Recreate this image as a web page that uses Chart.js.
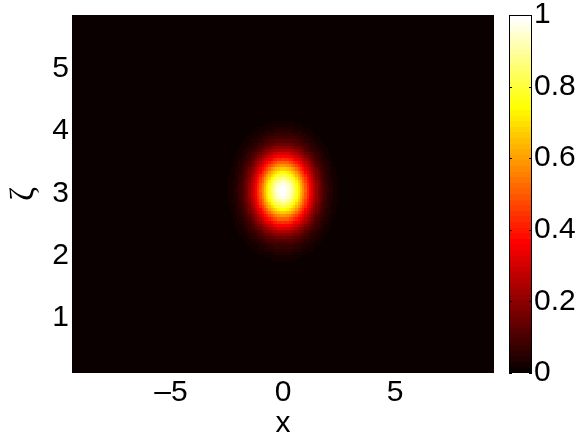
<!DOCTYPE html>
<html>
<head>
<meta charset="utf-8">
<script src="https://cdn.jsdelivr.net/npm/chart.js@4.4.1/dist/chart.umd.min.js"></script>
<style>
  html, body { margin: 0; padding: 0; background: #fff; }
  #wrap { position: relative; width: 579px; height: 439px; }
  #wrap canvas { position: absolute; left: 0; top: 0; }
</style>
</head>
<body>
<div id="wrap">
  <canvas id="heat" width="579" height="439"></canvas>
  <canvas id="cbar" width="579" height="439"></canvas>
</div>
<script>
// Region of the plane where the blob is; outside it the field reads as 0.
const xs = [-2.7, -2.6, -2.5, -2.4, -2.3, -2.2, -2.1, -2.0, -1.9, -1.8, -1.7, -1.6, -1.5,
  -1.4, -1.3, -1.2, -1.1, -1.0, -0.9, -0.8, -0.7, -0.6, -0.5, -0.4, -0.3, -0.2, -0.1,
  0.0, 0.1, 0.2, 0.3, 0.4, 0.5, 0.6, 0.7, 0.8, 0.9, 1.0, 1.1, 1.2, 1.3, 1.4, 1.5, 1.6,
  1.7, 1.8, 1.9, 2.0, 2.1, 2.2, 2.3, 2.4, 2.5, 2.6, 2.7];
// intensity across x, through the centre of the blob
const xProfile = [0.006, 0.009, 0.013, 0.019, 0.026, 0.035, 0.047, 0.063, 0.082, 0.106,
  0.135, 0.170, 0.211, 0.258, 0.310, 0.369, 0.433, 0.501, 0.571, 0.642, 0.712, 0.779,
  0.841, 0.895, 0.940, 0.973, 0.993, 1.000, 0.993, 0.973, 0.940, 0.895, 0.841, 0.779,
  0.712, 0.642, 0.571, 0.501, 0.433, 0.369, 0.310, 0.258, 0.211, 0.170, 0.135, 0.106,
  0.082, 0.063, 0.047, 0.035, 0.026, 0.019, 0.013, 0.009, 0.006];

const zetas = [1.74, 1.79, 1.84, 1.89, 1.94, 1.99, 2.04, 2.09, 2.14, 2.19, 2.24, 2.29,
  2.34, 2.39, 2.44, 2.49, 2.54, 2.59, 2.64, 2.69, 2.74, 2.79, 2.84, 2.89, 2.94, 2.99,
  3.04, 3.09, 3.14, 3.19, 3.24, 3.29, 3.34, 3.39, 3.44, 3.49, 3.54, 3.59, 3.64, 3.69,
  3.74, 3.79, 3.84, 3.89, 3.94, 3.99, 4.04, 4.09, 4.14, 4.19, 4.24, 4.29, 4.34];
// intensity along zeta, through the centre of the blob
const zetaProfile = [0.004, 0.006, 0.009, 0.013, 0.019, 0.027, 0.037, 0.051, 0.070,
  0.093, 0.122, 0.157, 0.200, 0.249, 0.306, 0.370, 0.440, 0.514, 0.591, 0.669, 0.744,
  0.814, 0.877, 0.929, 0.968, 0.992, 1.000, 0.992, 0.968, 0.929, 0.877, 0.814, 0.744,
  0.669, 0.591, 0.514, 0.440, 0.370, 0.306, 0.249, 0.200, 0.157, 0.122, 0.093, 0.070,
  0.051, 0.037, 0.027, 0.019, 0.013, 0.009, 0.006, 0.004];

const xRange = [-9.42, 9.42];
const zetaRange = [0.12, 5.86];
const xTicks = [-5, 0, 5];
const zetaTicks = [1, 2, 3, 4, 5];
const cbarTicks = [0, 0.2, 0.4, 0.6, 0.8, 1];

const labelFont = { family: "'Liberation Sans', Arial, sans-serif", size: 30 };

// MATLAB "hot", 64 entries
function hotColor(i) {
    const r = i < 24 ? (i + 1) / 24 : 1;
    const g = i < 24 ? 0 : (i < 48 ? (i - 23) / 24 : 1);
    const b = i < 48 ? 0 : (i - 47) / 16;
    return 'rgb(' + Math.round(r * 255) + ',' + Math.round(g * 255) + ',' + Math.round(b * 255) + ')';
}
function hot(v) {
    return hotColor(Math.max(0, Math.min(63, Math.floor(v * 64))));
}

const cells = [];
xs.forEach((x, i) => {
    zetas.forEach((z, j) => {
        cells.push({ x: x, y: z, v: xProfile[i] * zetaProfile[j] });
    });
});

const heatmapPlugin = {
    id: 'heatmap',
    beforeDatasetsDraw(chart) {
        const { ctx, chartArea: a, scales: { x, y } } = chart;
        const hx = (xs[1] - xs[0]) / 2;
        const hz = (zetas[1] - zetas[0]) / 2;
        ctx.save();
        ctx.fillStyle = hot(0);
        ctx.fillRect(a.left, a.top, a.width, a.height);
        chart.data.datasets[0].data.forEach(c => {
            const l = Math.round(x.getPixelForValue(c.x - hx));
            const r = Math.round(x.getPixelForValue(c.x + hx));
            const t = Math.round(y.getPixelForValue(c.y + hz));
            const b = Math.round(y.getPixelForValue(c.y - hz));
            ctx.fillStyle = hot(c.v);
            ctx.fillRect(l, t, r - l, b - t);
        });
        ctx.restore();
    }
};

const colorbarPlugin = {
    id: 'colorbar',
    beforeDatasetsDraw(chart) {
        const { ctx, chartArea: a, scales: { y } } = chart;
        ctx.save();
        for (let k = 0; k < 64; k++) {
            const b = Math.round(y.getPixelForValue(k / 64));
            const t = Math.round(y.getPixelForValue((k + 1) / 64));
            ctx.fillStyle = hotColor(k);
            ctx.fillRect(a.left, t, a.width, b - t);
        }
        ctx.strokeStyle = '#000';
        ctx.lineWidth = 1;
        ctx.beginPath();
        cbarTicks.forEach(v => {
            const py = Math.round(y.getPixelForValue(v)) + 0.5;
            ctx.moveTo(a.left, py);
            ctx.lineTo(a.left + 3, py);
            ctx.moveTo(a.right, py);
            ctx.lineTo(a.right - 3, py);
        });
        ctx.stroke();
        ctx.strokeRect(a.left + 0.5, a.top + 0.5, a.width - 1, a.height - 1);
        ctx.restore();
    }
};

function fmt(v) {
    return v < 0 ? '\u2013' + Math.abs(v) : String(v);
}

new Chart(document.getElementById('heat'), {
    type: 'scatter',
    data: { datasets: [{ data: cells, pointRadius: 0, pointHoverRadius: 0 }] },
    options: {
        responsive: false,
        animation: false,
        events: [],
        layout: { padding: { left: 0, top: 15, right: 85, bottom: 0 } },
        plugins: { legend: { display: false }, tooltip: { enabled: false } },
        scales: {
            x: {
                type: 'linear',
                min: xRange[0],
                max: xRange[1],
                grid: { display: false, drawTicks: false },
                border: { display: false },
                afterBuildTicks: s => { s.ticks = xTicks.map(v => ({ value: v })); },
                afterFit: s => { s.height = 66; s.paddingLeft = 0; s.paddingRight = 0; },
                ticks: { color: '#000', font: labelFont, padding: 2, maxRotation: 0, autoSkip: false, callback: fmt },
                title: { display: true, text: 'x', color: '#000', font: { ...labelFont, lineHeight: 1 }, padding: { top: 0, bottom: 0 } }
            },
            y: {
                type: 'linear',
                min: zetaRange[0],
                max: zetaRange[1],
                grid: { display: false, drawTicks: false },
                border: { display: false },
                afterBuildTicks: s => { s.ticks = zetaTicks.map(v => ({ value: v })); },
                afterFit: s => { s.width = 72; s.paddingTop = 0; s.paddingBottom = 0; },
                ticks: { color: '#000', font: labelFont, padding: 3, autoSkip: false, callback: fmt },
                title: { display: true, text: '\u03b6', color: '#000', font: { family: "'Liberation Serif', serif", size: 34 }, padding: { top: 4, bottom: 0 } }
            }
        }
    },
    plugins: [heatmapPlugin]
});

new Chart(document.getElementById('cbar'), {
    type: 'scatter',
    data: { datasets: [{ data: [], pointRadius: 0 }] },
    options: {
        responsive: false,
        animation: false,
        events: [],
        layout: { padding: { left: 509, top: 15, right: 0, bottom: 66 } },
        plugins: { legend: { display: false }, tooltip: { enabled: false } },
        scales: {
            x: { display: false, min: 0, max: 1 },
            y: {
                position: 'right',
                min: 0,
                max: 1,
                grid: { display: false, drawTicks: false },
                border: { display: false },
                afterBuildTicks: s => { s.ticks = cbarTicks.map(v => ({ value: v })); },
                afterFit: s => { s.width = 47; s.paddingTop = 0; s.paddingBottom = 0; },
                ticks: { color: '#000', font: labelFont, padding: 2, autoSkip: false, callback: v => String(v) }
            }
        }
    },
    plugins: [colorbarPlugin]
});
</script>
</body>
</html>
